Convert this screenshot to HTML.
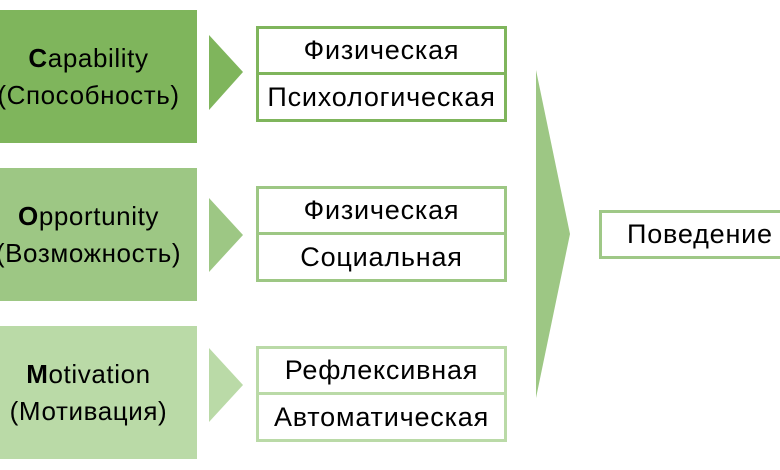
<!DOCTYPE html>
<html><head><meta charset="utf-8"><style>
body{margin:0;width:780px;height:470px;background:#fff;overflow:hidden;position:relative;font-family:"Liberation Sans","DejaVu Sans",sans-serif;color:#000}
.a{position:absolute;left:-20px;width:217px;height:133px;padding-right:0;display:flex;flex-direction:column;justify-content:center;align-items:center;font-size:26px;letter-spacing:0.6px;line-height:37px;white-space:nowrap}
.s{position:absolute;left:256px;width:245px;height:90px;border:3px solid}
.s div{height:44px;display:flex;align-items:center;justify-content:center;font-size:27px;letter-spacing:0.8px;white-space:nowrap}
.s div:first-child{border-bottom:3px solid;border-color:inherit;height:43px}
.p{position:absolute;left:599px;top:210px;width:190px;height:43px;border:3px solid #9fc887;display:flex;align-items:center;padding-left:25px;box-sizing:content-box;font-size:27px;letter-spacing:0.8px;white-space:nowrap}
.bg{position:absolute;left:0;width:197px;height:133px}
</style></head><body>
<div class="bg" style="top:10px;background:#7fb55c"></div>
<div class="bg" style="top:168px;background:#9dc784"></div>
<div class="bg" style="top:326px;background:#badaa7"></div>
<div class="a" style="top:10px"><div><b>C</b>apability</div><div>(Способность)</div></div>
<div class="a" style="top:168px"><div><b>O</b>pportunity</div><div>(Возможность)</div></div>
<div class="a" style="top:326px"><div><b>M</b>otivation</div><div>(Мотивация)</div></div>
<svg width="780" height="470" style="position:absolute;left:0;top:0">
<polygon points="209,35 243,72 209,110" fill="#7fb55c"/>
<polygon points="209,198 243,235 209,272" fill="#9dc784"/>
<polygon points="209,348 243,385 209,422" fill="#badaa7"/>
<polygon points="536,70 570,234 536,398" fill="#9dc784"/>
</svg>
<div class="s" style="top:26px;border-color:#7fb55c"><div>Физическая</div><div>Психологическая</div></div>
<div class="s" style="top:186px;border-color:#9dc784"><div>Физическая</div><div>Социальная</div></div>
<div class="s" style="top:346px;border-color:#badaa7"><div>Рефлексивная</div><div>Автоматическая</div></div>
<div class="p">Поведение</div>
</body></html>
